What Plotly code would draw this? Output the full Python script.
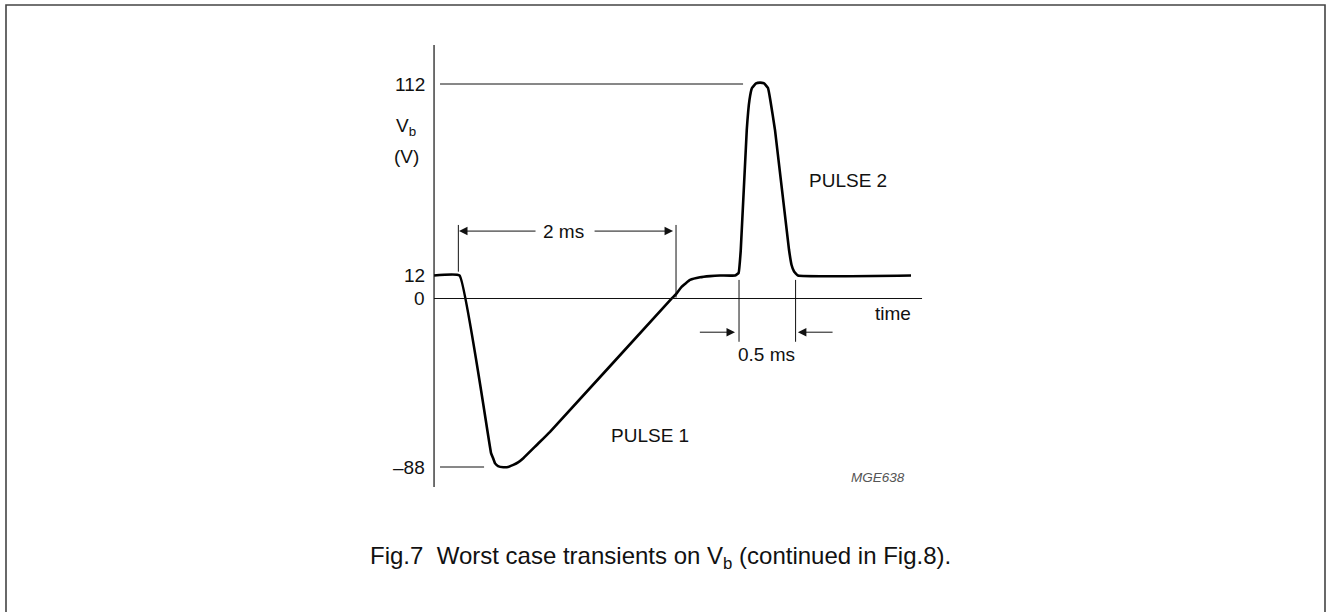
import plotly.graph_objects as go

# waveform of Vb (time in ms, volts) - schematic
wave_t = [0.0, 0.234, 0.523, 0.541, 0.560, 0.587, 0.636, 0.679, 0.727, 0.771,
          0.819, 0.942, 1.064, 2.181, 2.220, 2.273, 2.349, 2.440, 2.532, 2.624,
          2.761, 2.794, 2.814, 2.869, 2.894, 2.917, 2.954, 2.991, 3.028, 3.064,
          3.085, 3.128, 3.257, 3.280, 3.303, 3.339, 4.376]
wave_v = [12, 12, -80.7, -83.3, -86.1, -87.5, -88.1, -88.0, -86.9, -85.6,
          -83.4, -76.5, -69.6, 0, 2.3, 6.2, 9.7, 11.1, 11.7, 12,
          12, 13.3, 25.3, 88, 103.7, 109.9, 112.3, 112.7, 112.3, 109.9,
          103.7, 88, 25.3, 17.5, 14.1, 12, 12]

level_values = [112, 12, 0, -88]
level_labels = ["112", "12", "0", "\u201388"]

FONT = "Arial, Liberation Sans, sans-serif"
INK = "#111111"

fig = go.Figure()
fig.add_trace(go.Scatter(
    x=wave_t, y=wave_v, mode="lines",
    line=dict(color="black", width=2.6, shape="spline", smoothing=0.3),
    hoverinfo="skip", showlegend=False,
))

shapes = []


def seg(x0, y0, x1, y1, w=1.0, color=INK):
    shapes.append(dict(type="line", xref="x", yref="y", x0=x0, y0=y0, x1=x1, y1=y1,
                       line=dict(color=color, width=w)))


# axes
seg(0, -98.4, 0, 132.4, 1.2)
seg(0, 0, 4.477, 0, 1.2)
# reference lines for 112 and -88
seg(0.055, 112, 2.835, 112, 1.0)
seg(0.055, -88, 0.459, -88, 1.0)
# 2 ms extension lines
seg(0.223, 14.0, 0.223, 38.4)
seg(2.220, 0.5, 2.220, 38.4)
# 0.5 ms extension lines
seg(2.798, -22.6, 2.798, 9.7)
seg(3.317, -22.6, 3.317, 9.7)

# frame
shapes.append(dict(type="rect", xref="paper", yref="paper",
                   x0=6 / 1331, x1=1325 / 1331, y0=-0.2, y1=1 - 5 / 612,
                   line=dict(color="#444444", width=1.6)))

ann = []


def arrow(tail, tip, y):
    ann.append(dict(x=tip, y=y, ax=tail, ay=y, xref="x", yref="y", axref="x", ayref="y",
                    text="", showarrow=True, arrowhead=2, arrowsize=1.7,
                    arrowwidth=1, arrowcolor=INK, standoff=0, startstandoff=0))


arrow(0.945, 0.229, 35.2)
arrow(1.459, 2.193, 35.2)
arrow(2.425, 2.761, -17.6)
arrow(3.670, 3.338, -17.6)


def label(x, y, text, size=19, xanchor="center", **kw):
    ann.append(dict(x=x, y=y, xref="x", yref="y", text=text, showarrow=False,
                    xanchor=xanchor, yanchor="middle",
                    font=dict(family=FONT, size=size, color=kw.pop("color", INK)), **kw))


for v, lab in zip(level_values, level_labels):
    label(-0.064, v, lab, xanchor="right")

label(-0.257, 89.6, "V<sub>b</sub>")
label(-0.257, 74.4, "(V)")
label(1.19, 35.2, "2 ms")
label(3.046, -29.5, "0.5 ms")
label(4.211, -7.6, "time")
label(3.798, 61.4, "PULSE 2")
label(1.982, -71.8, "PULSE 1")
label(4.07, -93.7, "<i>MGE638</i>", size=13.5, color="#555555")

ann.append(dict(x=660 / 1331, y=1 - 557 / 612, xref="paper", yref="paper",
                text="Fig.7\u00a0 Worst case transients on V<sub>b</sub> (continued in Fig.8).",
                showarrow=False, xanchor="center", yanchor="middle",
                font=dict(family=FONT, size=24, color=INK)))

fig.update_layout(
    width=1331, height=612,
    margin=dict(l=0, r=0, t=0, b=0),
    paper_bgcolor="white", plot_bgcolor="white",
    xaxis=dict(range=[-3.982, 8.229], visible=False, fixedrange=True),
    yaxis=dict(range=[-163.71, 155.87], visible=False, fixedrange=True),
    shapes=shapes, annotations=ann, showlegend=False,
)

fig.write_html(
    "out.html",
    config={"displayModeBar": False},
    post_script="document.body.style.margin='0';document.body.style.overflow='hidden';",
)
